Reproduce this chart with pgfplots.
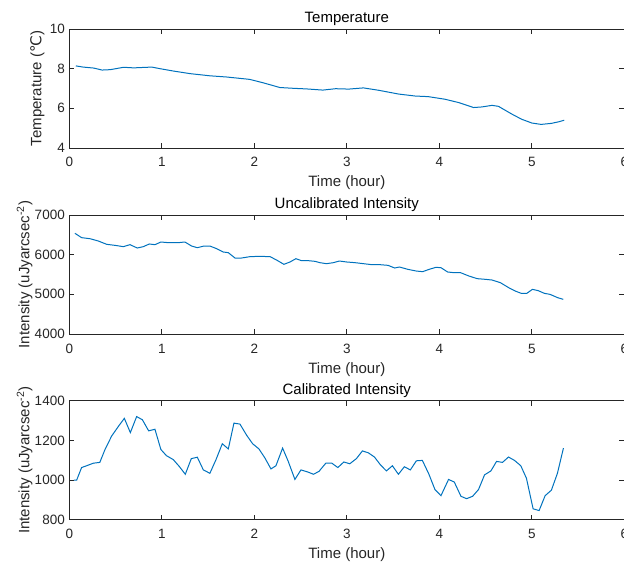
\documentclass[border=0pt]{standalone}
\usepackage{pgfplots}
\pgfplotsset{compat=1.18}
\usepackage{fontspec}
\setmainfont{Liberation Sans}
\newfontfamily\dejavu{DejaVu Sans}
\definecolor{mblue}{RGB}{0,114,189}
\definecolor{mgray}{RGB}{38,38,38}
\pgfplotsset{
  mstyle/.style={
    scale only axis, width=555bp, height=119bp,
    anchor=north west,
    xmin=0, xmax=6, xtick={0,1,2,3,4,5,6},
    axis line style={mgray, line width=0.7bp},
    every tick/.style={mgray, line width=0.7bp},
    tick align=inside, major tick length=5bp,
    xtick pos=both, ytick pos=both,
    xticklabel pos=lower, yticklabel pos=left,
    /pgf/number format/assume math mode=true,
    /pgf/number format/1000 sep={},
    tick label style={font=\fontsize{13.5bp}{16bp}\selectfont, text=mgray},
    xticklabel style={anchor=base, yshift=-19bp},
    yticklabel style={anchor=east, xshift=-1bp},
    label style={font=\fontsize{15bp}{18bp}\selectfont, text=mgray},
    every axis title/.style={font=\fontsize{15bp}{18bp}\selectfont, text=black, at={(axis description cs:0.5,1)}, anchor=base, yshift=6.5bp},
    xlabel style={at={(axis description cs:0.5,0)}, anchor=base, yshift=-39bp},
    xlabel={Time (hour)},
  },
  mline/.style={color=mblue, line width=1bp, no markers},
}
\begin{document}
\begin{tikzpicture}
\path[use as bounding box] (0,0) rectangle (624bp,-565bp);
\clip (0,0) rectangle (624bp,-565bp);

\begin{axis}[mstyle, at={(69.3bp,-29bp)},
  ymin=4, ymax=10, ytick={4,6,8,10},
  title={Temperature},
  ylabel={Temperature ({\dejavu ℃})},
  ylabel style={at={(axis description cs:-0.0505,0.5)}, anchor=base},
]
\addplot[mline] coordinates {
(0.07,8.14) (0.15,8.08) (0.265,8.03) (0.354,7.93) (0.444,7.95) (0.587,8.07) (0.695,8.04) (0.892,8.08) (0.98,8.0) (1.126,7.88) (1.305,7.75) (1.52,7.64) (1.70,7.58) (1.95,7.46) (2.094,7.29) (2.276,7.05) (2.42,7.01) (2.56,6.98) (2.74,6.92) (2.88,6.99) (3.02,6.97) (3.18,7.03) (3.345,6.91) (3.56,6.72) (3.74,6.62) (3.88,6.59) (4.06,6.46) (4.21,6.29) (4.37,6.04) (4.46,6.07) (4.57,6.15) (4.64,6.10) (4.78,5.72) (4.89,5.45) (5.0,5.26) (5.1,5.19) (5.21,5.24) (5.29,5.32) (5.35,5.40)
};
\end{axis}

\begin{axis}[mstyle, at={(69.3bp,-215bp)},
  ymin=4000, ymax=7000, ytick={4000,5000,6000,7000},
  title={Uncalibrated Intensity},
  ylabel={Intensity (uJyarcsec\textsuperscript{-2})},
  ylabel style={at={(axis description cs:-0.0721,0.5)}, anchor=base},
]
\addplot[mline] coordinates {
(0.061,6538) (0.133,6429) (0.223,6403) (0.313,6345) (0.404,6261) (0.494,6235) (0.584,6202) (0.656,6252) (0.735,6168) (0.80,6202) (0.865,6269) (0.926,6252) (0.99,6319) (1.07,6303) (1.178,6303) (1.25,6319) (1.322,6218) (1.384,6176) (1.456,6218) (1.52,6218) (1.593,6151) (1.665,6067) (1.719,6050) (1.791,5916) (1.863,5916) (1.953,5950) (2.06,5958) (2.17,5950) (2.24,5866) (2.32,5756) (2.385,5815) (2.45,5899) (2.51,5849) (2.584,5849) (2.656,5832) (2.71,5798) (2.78,5773) (2.854,5798) (2.92,5840) (3.0,5815) (3.09,5798) (3.18,5773) (3.27,5748) (3.357,5748) (3.446,5731) (3.518,5664) (3.57,5689) (3.66,5630) (3.75,5588) (3.82,5571) (3.89,5630) (3.964,5681) (4.018,5672) (4.09,5563) (4.16,5546) (4.23,5546) (4.32,5462) (4.41,5395) (4.5,5378) (4.57,5361) (4.66,5294) (4.75,5168) (4.82,5084) (4.886,5025) (4.946,5025) (5.007,5126) (5.07,5092) (5.136,5025) (5.196,5000) (5.28,4916) (5.34,4874)
};
\end{axis}

\begin{axis}[mstyle, at={(69.3bp,-400.7bp)},
  ymin=800, ymax=1400, ytick={800,1000,1200,1400},
  title={Calibrated Intensity},
  ylabel={Intensity (uJyarcsec\textsuperscript{-2})},
  ylabel style={at={(axis description cs:-0.0721,0.5)}, anchor=base},
]
\addplot[mline] coordinates {
(0.05,1000) (0.08,1000) (0.133,1063) (0.187,1072) (0.26,1085) (0.33,1089) (0.386,1154) (0.458,1222) (0.53,1270) (0.595,1311) (0.66,1239) (0.728,1320) (0.79,1304) (0.858,1248) (0.926,1256) (0.99,1154) (1.05,1123) (1.124,1103) (1.19,1068) (1.254,1029) (1.319,1108) (1.384,1115) (1.449,1051) (1.52,1034) (1.586,1103) (1.654,1183) (1.719,1157) (1.78,1287) (1.845,1282) (1.917,1226) (1.982,1183) (2.05,1157) (2.115,1111) (2.18,1056) (2.234,1072) (2.306,1161) (2.367,1094) (2.439,1003) (2.504,1051) (2.576,1041) (2.64,1029) (2.70,1044) (2.773,1085) (2.838,1085) (2.903,1063) (2.968,1091) (3.032,1082) (3.104,1108) (3.169,1147) (3.234,1137) (3.299,1116) (3.363,1077) (3.428,1046) (3.493,1072) (3.558,1029) (3.622,1067) (3.687,1051) (3.752,1097) (3.817,1099) (3.888,1029) (3.953,952) (4.018,921) (4.10,1003) (4.162,990) (4.234,918) (4.295,906) (4.36,918) (4.424,952) (4.489,1026) (4.558,1046) (4.619,1094) (4.683,1089) (4.748,1116) (4.813,1099) (4.881,1072) (4.942,1009) (5.014,855) (5.079,846) (5.144,921) (5.212,949) (5.277,1034) (5.342,1161)
};
\end{axis}
\end{tikzpicture}
\end{document}
